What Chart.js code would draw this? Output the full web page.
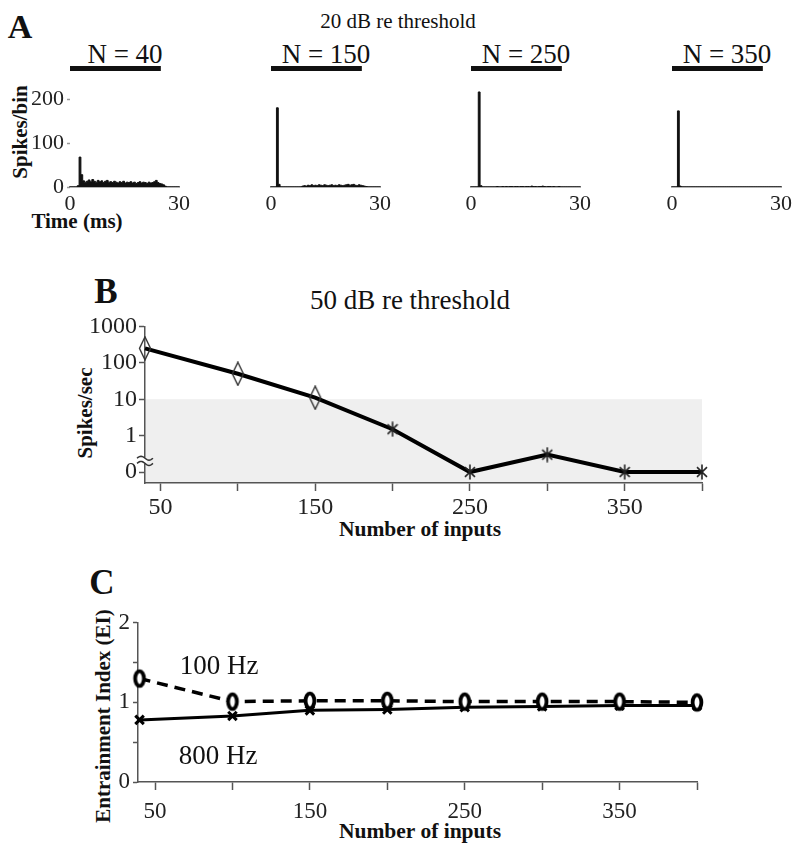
<!DOCTYPE html>
<html><head><meta charset="utf-8">
<script src="https://cdn.jsdelivr.net/npm/chart.js@4/dist/chart.umd.min.js"></script>
<style>
html,body{margin:0;padding:0;background:#fff;}
#fig{position:relative;width:800px;height:849px;overflow:hidden;font-family:"Liberation Serif","Times New Roman",serif;color:#111;background:#fff;}
.t{position:absolute;white-space:nowrap;line-height:1;transform:translate(-50%,-50%);}
.b{font-weight:bold;}
.r{transform:translate(-50%,-50%) rotate(-90deg);}
canvas{position:absolute;}
</style></head>
<body><div id="fig">
<div class="t b" style="left:20px;top:27px;font-size:34px">A</div>
<div class="t" style="left:398px;top:21px;font-size:21px">20 dB re threshold</div>
<div class="t" style="left:125px;top:54px;font-size:27px">N = 40</div>
<div class="t" style="left:326px;top:54px;font-size:27px">N = 150</div>
<div class="t" style="left:526px;top:54px;font-size:27px">N = 250</div>
<div class="t" style="left:727px;top:54px;font-size:27px">N = 350</div>
<div class="t b r" style="left:20px;top:132px;font-size:21px">Spikes/bin</div>
<div class="t b" style="left:77px;top:221px;font-size:21px">Time (ms)</div>

<div class="t b" style="left:106px;top:291px;font-size:35px">B</div>
<div class="t" style="left:410px;top:300px;font-size:27px">50 dB re threshold</div>
<div class="t b r" style="left:85px;top:413px;font-size:21px">Spikes/sec</div>
<div class="t b" style="left:420px;top:530px;font-size:21.5px">Number of inputs</div>

<div class="t b" style="left:102px;top:582px;font-size:35px">C</div>
<div class="t b r" style="left:103px;top:716px;font-size:21px">Entrainment Index (EI)</div>
<div class="t b" style="left:420px;top:832px;font-size:21.5px">Number of inputs</div>

<canvas id="a0"></canvas><canvas id="a1"></canvas><canvas id="a2"></canvas><canvas id="a3"></canvas>
<canvas id="cb"></canvas>
<canvas id="cc"></canvas>
<div class="t" style="left:219px;top:665px;font-size:27px">100 Hz</div>
<div class="t" style="left:218px;top:755px;font-size:27px">800 Hz</div>
</div>
<script>
// ---------------- data ----------------
const BIN_MS = 0.5;
const TIME_MAX = 30;
const STIM_MS = 25;
const PSTH_N40  = [0,0,0,0,3, 68,28,14,11,13, 16,12,17,13,11, 15,12,14,10,13, 15,11,12,10,13, 11,9,12,10,13, 9,11,10,12,9, 11,8,10,12,9, 11,10,8,11,9, 10,12,15,10,8, 7,5,2,0,0, 0,0,0,0,0];
const PSTH_N150 = [0,0,0,180,6, 0,0,0,0,0, 0,0,0,0,0, 0,0,2,3,2, 4,3,5,3,4, 3,5,4,3,5, 4,3,4,5,3, 4,3,5,4,3, 4,5,6,4,5, 6,4,3,5,4, 3,2,1,0,0, 0,0,0,0,0];
const PSTH_N250 = [0,0,0,0,216, 3,0,0,0,0, 0,0,0,0,1, 0,0,1,0,1, 0,1,1,0,1, 1,0,1,1,0, 1,1,0,2,1, 1,0,1,1,2, 1,0,1,1,0, 1,0,0,1,0, 0,0,0,0,0, 0,0,0,0,0];
const PSTH_N350 = [0,0,0,173,2, 0,0,0,0,0, 0,0,0,0,0, 0,0,0,0,0, 0,0,0,0,0, 0,0,0,0,0, 0,0,0,0,0, 0,0,0,0,0, 0,0,0,0,0, 0,0,0,0,0, 0,0,0,0,0, 0,0,0,0,0];
const PSTH_Y_MAX = 250;
const PSTH_Y_LABELED = [0,100,200];

const INPUTS = [40,100,150,200,250,300,350,400];
const X_TICKS = [50,100,150,200,250,300,350,400];
const X_LABELED = [50,150,250,350];
const RATE_50DB = [250,50,11,1.5,0,0.3,0,0];
const RATE_ZERO_AT = 0.1;      // position of "0" on the broken log axis
const RATE_THRESHOLD = 10;     // shaded region below this rate
const RATE_Y_TICKS = [0.1,1,10,100,1000];
const EI_100HZ = [1.30,1.01,1.02,1.02,1.01,1.01,1.01,1.00];
const EI_800HZ = [0.78,0.83,0.90,0.91,0.94,0.95,0.96,0.96];
const EI_Y_TICKS = [0,0.5,1,1.5,2];
const EI_Y_LABELED = [0,1,2];

// ---------------- helpers ----------------
Chart.defaults.font.family = '"Liberation Serif","Times New Roman",serif';
Chart.defaults.color = '#222';
const AXIS = '#555';

function mk(w,h,draw){const c=document.createElement('canvas');c.width=w;c.height=h;draw(c.getContext('2d'),w,h);return c;}
const diamondImg = mk(14,25,(g,w,h)=>{g.strokeStyle='#333';g.lineWidth=1.4;g.beginPath();g.moveTo(w/2,1);g.lineTo(w-1.5,h/2);g.lineTo(w/2,h-1);g.lineTo(1.5,h/2);g.closePath();g.stroke();});
const starImg = mk(12,16,(g,w,h)=>{g.strokeStyle='#222';g.lineWidth=1.6;g.beginPath();g.moveTo(w/2,0.5);g.lineTo(w/2,h-0.5);g.moveTo(1,h*0.2);g.lineTo(w-1,h*0.8);g.moveTo(w-1,h*0.2);g.lineTo(1,h*0.8);g.stroke();});
const ringImg = mk(18,24,(g,w,h)=>{g.beginPath();g.ellipse(w/2,h/2,4.4,7.4,0,0,Math.PI*2);g.fillStyle='#fff';g.fill();g.lineWidth=3.8;g.strokeStyle='#000';g.stroke();});

function place(cv,left,top,w,h){cv.width=w;cv.height=h;cv.style.left=left+'px';cv.style.top=top+'px';}

const stimBar = {id:'stimBar', afterDraw(chart){
  const {ctx,chartArea}=chart; const x=chart.scales.x;
  const x0=x.getPixelForValue(0), x1=x.getPixelForValue(STIM_MS);
  ctx.save(); ctx.fillStyle='#111'; ctx.fillRect(x0,chartArea.top-11,x1-x0,5); ctx.restore();
}};

// ---------------- panel A ----------------
const AX_LEFT=[70,271,471,672], PLOT_W=112;
[PSTH_N40,PSTH_N150,PSTH_N250,PSTH_N350].forEach((data,idx)=>{
  const yW = idx===0?70:20, padR=12;
  const cv=document.getElementById('a'+idx);
  place(cv,AX_LEFT[idx]-yW,60,yW+PLOT_W+padR,157);
  const pts=data.map((v,i)=>({x:i*BIN_MS,y:v})); pts.push({x:data.length*BIN_MS,y:0});
  new Chart(cv,{type:'line',
    data:{datasets:[{data:pts,stepped:'before',fill:'origin',backgroundColor:'#111',borderColor:'#111',borderWidth:1,pointRadius:0}]},
    options:{responsive:false,animation:false,
      layout:{padding:{top:17,right:padR,left:0,bottom:0}},
      plugins:{legend:{display:false},tooltip:{enabled:false}},
      scales:{
        x:{type:'linear',min:0,max:TIME_MAX,
          afterBuildTicks:s=>{s.ticks=[{value:0},{value:TIME_MAX}];},
          grid:{display:false,drawTicks:false},
          border:{display:true,color:'#666',width:1.5},
          ticks:{padding:4,maxRotation:0,autoSkip:false,font:{size:22},color:'#222'},
          afterFit:s=>{s.height=30;}},
        y:{type:'linear',min:0,max:PSTH_Y_MAX,
          ticks:{display:idx===0,stepSize:50,padding:3,font:{size:22},color:'#222',callback:v=>PSTH_Y_LABELED.includes(v)?String(v):''},
          grid:{display:idx===0,drawOnChartArea:false,drawTicks:true,tickLength:3,color:'#999',tickWidth:1.5},
          border:{display:false},
          afterFit:s=>{s.width=yW;}}
      }},
    plugins:[stimBar]});
});

// ---------------- panel B ----------------
const shadeB = {id:'shadeB', beforeDraw(chart){
  const {ctx,chartArea}=chart; const y=chart.scales.y;
  const yt=y.getPixelForValue(RATE_THRESHOLD);
  ctx.save(); ctx.fillStyle='#efefef'; ctx.fillRect(chartArea.left,yt,chartArea.right-chartArea.left,chartArea.bottom-yt); ctx.restore();
}};
const breakB = {id:'breakB', afterDraw(chart){
  const {ctx,chartArea}=chart; const y=chart.scales.y;
  const yb=(y.getPixelForValue(1)+y.getPixelForValue(RATE_ZERO_AT))/2+7;
  const x=chartArea.left;
  ctx.save(); ctx.fillStyle='#fff'; ctx.fillRect(x-2,yb-3,4,6);
  ctx.strokeStyle='#333'; ctx.lineWidth=1.5;
  [-2.6,2.6].forEach(dy=>{ctx.beginPath();
    for(let i=0;i<=16;i++){const xx=x-8+i;const yy=yb+dy-2*Math.sin(i/16*Math.PI*2);i?ctx.lineTo(xx,yy):ctx.moveTo(xx,yy);}
    ctx.stroke();});
  ctx.restore();
}};
{
  const cv=document.getElementById('cb'); place(cv,0,310,720,230);
  new Chart(cv,{type:'line',
    data:{datasets:[{data:INPUTS.map((n,i)=>({x:n,y:RATE_50DB[i]===0?RATE_ZERO_AT:RATE_50DB[i]})),
      borderColor:'#000',borderWidth:4,tension:0,clip:false,
      pointStyle:RATE_50DB.map(v=>v>=RATE_THRESHOLD?diamondImg:starImg),pointRadius:6}]},
    options:{responsive:false,animation:false,
      layout:{padding:{top:8,right:18,left:0,bottom:0}},
      plugins:{legend:{display:false},tooltip:{enabled:false}},
      scales:{
        x:{type:'linear',min:40,max:400,
          afterBuildTicks:s=>{s.ticks=X_TICKS.map(v=>({value:v}));},
          ticks:{padding:2,maxRotation:0,autoSkip:false,font:{size:24},color:'#222',callback:v=>X_LABELED.includes(v)?String(v):''},
          grid:{drawOnChartArea:false,drawTicks:true,tickLength:8,color:AXIS,tickWidth:1.5},
          border:{display:true,color:AXIS,width:1.5},
          afterFit:s=>{s.height=57;}},
        y:{type:'logarithmic',min:0.05,max:1000,
          afterBuildTicks:s=>{s.ticks=RATE_Y_TICKS.map(v=>({value:v}));},
          ticks:{padding:2,autoSkip:false,font:{size:24},color:'#222',callback:v=>v===RATE_ZERO_AT?'0':String(v)},
          grid:{drawOnChartArea:false,drawTicks:true,tickLength:6,color:AXIS,tickWidth:1.5},
          border:{display:true,color:AXIS,width:1.5},
          afterFit:s=>{s.width=145;}}
      }},
    plugins:[shadeB,breakB]});
}

// ---------------- panel C ----------------
{
  const cv=document.getElementById('cc'); place(cv,0,606,720,240);
  new Chart(cv,{type:'line',
    data:{datasets:[
      {label:'100 Hz',data:INPUTS.map((n,i)=>({x:n,y:EI_100HZ[i]})),borderColor:'#000',borderWidth:3.5,borderDash:[11,7],tension:0,clip:false,
        pointStyle:ringImg,pointRadius:6},
      {label:'800 Hz',data:INPUTS.map((n,i)=>({x:n,y:EI_800HZ[i]})),borderColor:'#000',borderWidth:3,tension:0,clip:false,
        pointStyle:'crossRot',pointRadius:6,pointBorderWidth:3,pointBorderColor:'#000'}
    ]},
    options:{responsive:false,animation:false,
      layout:{padding:{top:10,right:23,left:0,bottom:0}},
      plugins:{legend:{display:false},tooltip:{enabled:false}},
      scales:{
        x:{type:'linear',min:39,max:400,
          afterBuildTicks:s=>{s.ticks=X_TICKS.map(v=>({value:v}));},
          ticks:{padding:8,maxRotation:0,autoSkip:false,font:{size:23},color:'#222',callback:v=>X_LABELED.includes(v)?String(v):''},
          grid:{drawOnChartArea:false,drawTicks:true,tickLength:8,color:AXIS,tickWidth:1.5},
          border:{display:true,color:AXIS,width:1.5},
          afterFit:s=>{s.height=64;}},
        y:{type:'linear',min:0,max:2,
          afterBuildTicks:s=>{s.ticks=EI_Y_TICKS.map(v=>({value:v}));},
          ticks:{padding:3,autoSkip:false,font:{size:23},color:'#222',callback:v=>EI_Y_LABELED.includes(v)?String(v):''},
          grid:{drawOnChartArea:false,drawTicks:true,tickLength:5,color:AXIS,tickWidth:1.5},
          border:{display:true,color:AXIS,width:1.5},
          afterFit:s=>{s.width=138;}}
      }}});
}
</script>
</body></html>
